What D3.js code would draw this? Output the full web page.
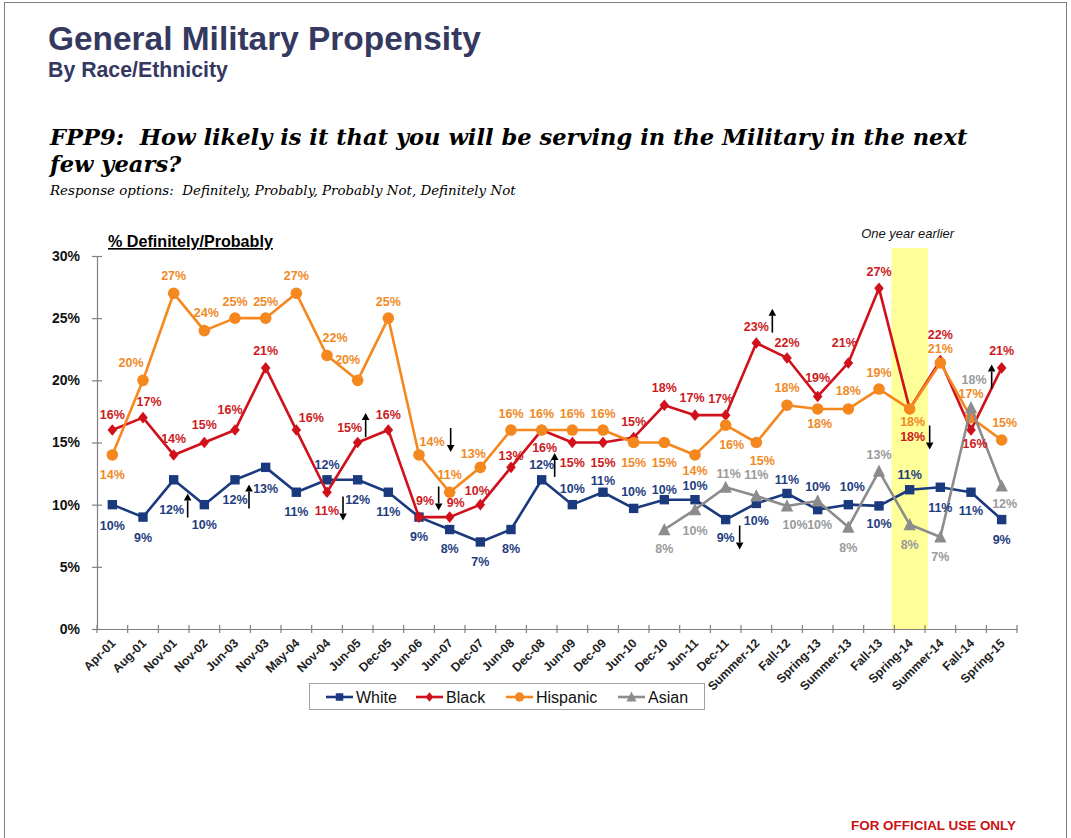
<!DOCTYPE html>
<html>
<head>
<meta charset="utf-8">
<script src="https://cdn.jsdelivr.net/npm/d3@7"></script>
<style>
  body { margin: 0; background: #fff; }
  svg { display: block; }
</style>
</head>
<body>
<script>
// ---- Survey waves (x categories) ----
const categories = ["Apr-01","Aug-01","Nov-01","Nov-02","Jun-03","Nov-03","May-04","Nov-04",
  "Jun-05","Dec-05","Jun-06","Jun-07","Dec-07","Jun-08","Dec-08","Jun-09","Dec-09","Jun-10",
  "Dec-10","Jun-11","Dec-11","Summer-12","Fall-12","Spring-13","Summer-13","Fall-13",
  "Spring-14","Summer-14","Fall-14","Spring-15"];

// ---- % Definitely/Probably by race/ethnicity ----
const white    = [10,9,12,10,12,13,11,12,12,11,9,8,7,8,12,10,11,9.7,10.4,10.4,8.8,10.1,10.9,9.6,10,9.9,11.2,11.4,11,8.8];
const black    = [16,17,14,15,16,21,16,11,15,16,9,9,10,13,16,15,15,15.4,18,17.2,17.2,23,21.8,18.7,21.4,27.4,17.7,21.6,16,21];
const hispanic = [14,20,27,24,25,25,27,22,20,25,14,11,13,16,16,16,16,15,15,14,16.4,15,18,17.7,17.7,19.3,17.7,21.4,17,15.2];
const asian    = [null,null,null,null,null,null,null,null,null,null,null,null,null,null,null,null,null,null,
  8,9.6,11.4,10.7,9.9,10.3,8.2,12.7,8.4,7.4,17.8,11.5];

const seriesNames = ["White","Black","Hispanic","Asian"];
const yTicks = [0,5,10,15,20,25,30];

// significance arrows: wave, level (%), direction
const arrowCats   = ["Nov-01","Jun-03","Nov-04","Jun-05","Jun-07","Jun-07","Dec-08","Dec-11","Summer-12","Spring-14","Spring-15"];
const arrowLevels = [9.93,10.66,9.69,16.4,10.5,15.2,13.2,7.36,24.8,15.4,20.3];
const arrowDirs   = ["up","up","down","up","down","down","up","down","up","down","up"];

const highlightCat = "Spring-14";

// ---- styling ----
const colors = { White:"#1b3a7e", Black:"#d0111b", Hispanic:"#f5871f", Asian:"#8c8c8c" };
const labelColors = { White:"#1f3d80", Black:"#cc1a22", Hispanic:"#f08a26", Asian:"#9a9a9a" };

// label offsets [dx, dy] relative to each point
const labelOffsets = {
  White: [[0,21],[0,20],[-2,30],[0,20],[0,20],[0,21],[0,19],[0,-15],[0,20],[0,19],[0,19],[0,19],[0,20],[0,19],
          [0,-15],[0,-16],[0,-12],[0,-17],[0,-10],[0,-14],[0,18],[0,17],[0,-14],[0,-23],[4,-18],[0,18],[0,-15],[0,20],[0,18],[0,20]],
  Black: [[0,-16],[6,-16],[0,-16],[0,-18],[-5,-21],[0,-17],[15,-13],[0,18],[-8,-15],[0,-16],[6,-17],[6,-15],[-3,-14],[0,-12],
          [3,17],[0,20],[0,20],[0,-16],[0,-18],[-3,-18],[-5,-17],[0,-17],[0,-15],[0,-19],[-4,-20],[0,-17],[3,28],[0,-26],[4,13],[0,-17]],
  Hispanic: [[0,20],[-12,-18],[0,-18],[2,-18],[0,-17],[0,-17],[0,-18],[8,-18],[-10,-21],[0,-17],[13,-13],[0,-18],[-7,-14],[0,-17],
          [0,-17],[0,-17],[0,-17],[0,20],[0,20],[0,16],[6,19],[6,18],[0,-18],[2,15],[0,-18],[0,-17],[3,13],[0,-14],[0,-24],[3,-18]],
  Asian: [null,null,null,null,null,null,null,null,null,null,null,null,null,null,null,null,null,null,
          [0,19],[0,21],[3,-14],[0,-21],[8,19],[2,24],[0,20],[0,-17],[0,20],[0,20],[3,-28],[3,17]]
};
const arrowDx = [14,14,16,8,-11,1,13,14,16,20,-10];

const W = 1071, H = 838;
const sans = "'Liberation Sans', Arial, Helvetica, sans-serif";
const serif = "'DejaVu Serif', Georgia, serif";

const svg = d3.select("body").append("svg").attr("width", W).attr("height", H);

// page frame
svg.append("rect").attr("x",4.5).attr("y",2.5).attr("width",1062).attr("height",H+20)
  .attr("fill","#fff").attr("stroke","#7f7f7f").attr("stroke-width",1);

function fitWidth(sel, width) {
  const w = sel.node().getComputedTextLength();
  const fs = parseFloat(sel.attr("font-size"));
  sel.attr("font-size", (fs * width / w).toFixed(2));
}

// titles
const t1 = svg.append("text").attr("x",48).attr("y",50).attr("font-family",sans).attr("font-weight","bold")
  .attr("font-size",33).attr("fill","#35385f").text("General Military Propensity");
fitWidth(t1, 433);
const t2 = svg.append("text").attr("x",48).attr("y",77).attr("font-family",sans).attr("font-weight","bold")
  .attr("font-size",21).attr("fill","#35385f").text("By Race/Ethnicity");
fitWidth(t2, 180);

const q1 = svg.append("text").attr("x",50).attr("y",145).attr("font-family",serif).attr("font-weight","bold")
  .attr("font-style","italic").attr("font-size",22).attr("fill","#000").style("white-space","pre")
  .text("FPP9:  How likely is it that you will be serving in the Military in the next");
fitWidth(q1, 918);
svg.append("text").attr("x",50).attr("y",172).attr("font-family",serif).attr("font-weight","bold")
  .attr("font-style","italic").attr("font-size",q1.attr("font-size")).attr("fill","#000").text("few years?");
const r1 = svg.append("text").attr("x",50).attr("y",195).attr("font-family",serif).attr("font-style","italic")
  .attr("font-size",13).attr("fill","#000").style("white-space","pre")
  .text("Response options:  Definitely, Probably, Probably Not, Definitely Not");
fitWidth(r1, 466);

// ---- scales ----
const x = d3.scaleBand().domain(categories).range([97, 1017]);
const cx = c => x(c) + x.bandwidth() / 2;
const y = d3.scaleLinear().domain([0, 30]).range([629, 256]);

// highlighted wave
svg.append("rect").attr("x", x(highlightCat) - 3).attr("y", 248)
  .attr("width", x.bandwidth() + 6).attr("height", y(0) - 248).attr("fill", "#ffff99");
const oy = svg.append("text").attr("x", cx(highlightCat) - 2).attr("y", 238).attr("text-anchor","middle")
  .attr("font-family",sans).attr("font-style","italic").attr("font-size",13).attr("fill","#111")
  .text("One year earlier");
fitWidth(oy, 93);

// axis caption
const cap = svg.append("text").attr("x",108).attr("y",247).attr("font-family",sans).attr("font-weight","bold")
  .attr("font-size",14).attr("fill","#000").attr("text-decoration","underline").text("% Definitely/Probably");
fitWidth(cap, 165);

// y axis
const yAxis = svg.append("g").attr("transform","translate(97,0)")
  .call(d3.axisLeft(y).tickValues(yTicks).tickFormat(d => d + "%").tickSize(5).tickPadding(12));
yAxis.select(".domain").attr("stroke","#808080").attr("stroke-width",1.2);
yAxis.selectAll(".tick line").attr("x2",-5).attr("x1",5).attr("stroke","#808080").attr("stroke-width",1.2);
yAxis.selectAll(".tick text").attr("font-family",sans).attr("font-weight","bold").attr("font-size",14).attr("fill","#111");

// x axis
const xAxis = svg.append("g").attr("transform",`translate(0,${y(0)})`)
  .call(d3.axisBottom(x).tickSize(0).tickFormat(""));
xAxis.select(".domain").attr("stroke","#808080").attr("stroke-width",1.2);
xAxis.selectAll(".tick").remove();
const boundaries = categories.map(c => x(c)).concat([x(categories[categories.length-1]) + x.bandwidth()]);
xAxis.selectAll("line.bound").data(boundaries).join("line").attr("class","bound")
  .attr("x1",d=>d).attr("x2",d=>d).attr("y1",-4).attr("y2",4).attr("stroke","#808080").attr("stroke-width",1.2);
xAxis.selectAll("text.cat").data(categories).join("text").attr("class","cat")
  .attr("transform", c => `translate(${cx(c) + 4},${15}) rotate(-45)`)
  .attr("text-anchor","end").attr("font-family",sans).attr("font-weight","bold")
  .attr("font-size",12.3).attr("fill","#222").text(c => c);

// ---- series ----
const seriesData = { White: white, Black: black, Hispanic: hispanic, Asian: asian };
const line = d3.line().defined(d => d.v != null).x(d => cx(d.c)).y(d => y(d.v));

function marker(g, name, px, py, scale) {
  const s = scale || 1;
  const col = colors[name];
  if (name === "White") {
    g.append("rect").attr("x", px - 4.7*s).attr("y", py - 4.7*s).attr("width", 9.4*s).attr("height", 9.4*s).attr("fill", col);
  } else if (name === "Black") {
    const a = 4.8*s, b = 5.8*s;
    g.append("path").attr("d", `M${px},${py-b}L${px+a},${py}L${px},${py+b}L${px-a},${py}Z`).attr("fill", col);
  } else if (name === "Hispanic") {
    g.append("circle").attr("cx", px).attr("cy", py).attr("r", 5.8*s).attr("fill", col);
  } else {
    const hw = 6.2*s, hh = 5.6*s;
    g.append("path").attr("d", `M${px},${py-hh-1}L${px+hw},${py+hh}L${px-hw},${py+hh}Z`).attr("fill", col);
  }
}

const plot = svg.append("g");
seriesNames.forEach(name => {
  const pts = seriesData[name].map((v, i) => ({ c: categories[i], v }));
  const g = plot.append("g");
  g.append("path").datum(pts).attr("d", line).attr("fill","none")
    .attr("stroke", colors[name]).attr("stroke-width", 2.6).attr("stroke-linejoin","round");
  pts.filter(d => d.v != null).forEach(d => marker(g, name, cx(d.c), y(d.v)));
});

// value labels
const labels = svg.append("g");
seriesNames.forEach(name => {
  seriesData[name].forEach((v, i) => {
    if (v == null) return;
    const off = labelOffsets[name][i];
    labels.append("text").attr("x", cx(categories[i]) + off[0]).attr("y", y(v) + off[1])
      .attr("dy","0.36em").attr("text-anchor","middle").attr("font-family",sans)
      .attr("font-weight","bold").attr("font-size",12.5).attr("fill", labelColors[name])
      .text(Math.round(v) + "%");
  });
});

// significance arrows
const arrows = svg.append("g");
arrowCats.forEach((c, i) => {
  const ax = cx(c) + arrowDx[i];
  const ay = y(arrowLevels[i]);
  const len = 24, up = arrowDirs[i] === "up";
  const tip = up ? ay - len/2 : ay + len/2;
  const tail = up ? ay + len/2 : ay - len/2;
  const hb = up ? tip + 7 : tip - 7;
  arrows.append("line").attr("x1", ax).attr("x2", ax).attr("y1", tail).attr("y2", hb)
    .attr("stroke","#000").attr("stroke-width",1.6);
  arrows.append("path").attr("d", `M${ax},${tip}L${ax+3.8},${hb}L${ax-3.8},${hb}Z`).attr("fill","#000");
});

// legend
const lg = svg.append("g");
lg.append("rect").attr("x",309.5).attr("y",683.5).attr("width",395).attr("height",26)
  .attr("fill","#fff").attr("stroke","#a0a0a0").attr("stroke-width",1);
const legendX = [326, 416, 506, 618];
seriesNames.forEach((name, i) => {
  const lx = legendX[i], ly = 697;
  lg.append("line").attr("x1", lx).attr("x2", lx + 27).attr("y1", ly).attr("y2", ly)
    .attr("stroke", colors[name]).attr("stroke-width", 2.6);
  marker(lg, name, lx + 13.5, ly, 0.8);
  lg.append("text").attr("x", lx + 30).attr("y", ly).attr("dy","0.36em")
    .attr("font-family",sans).attr("font-size",16).attr("fill","#111").text(name);
});

// footer
const ft = svg.append("text").attr("x",1016).attr("y",830).attr("text-anchor","end").attr("font-family",sans)
  .attr("font-weight","bold").attr("font-size",13.5).attr("fill","#cc1111").text("FOR OFFICIAL USE ONLY");
fitWidth(ft, 165);
</script>
</body>
</html>
